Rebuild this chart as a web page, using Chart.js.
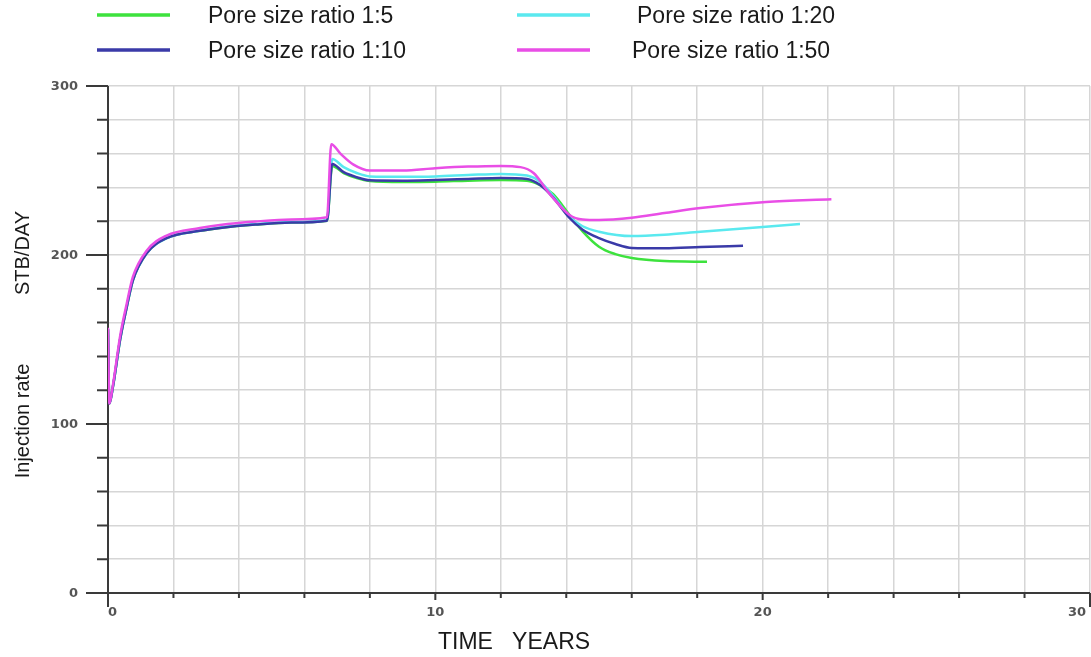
<!DOCTYPE html>
<html>
<head>
    <title>Injection rate vs time</title>
    <script src="https://cdn.jsdelivr.net/npm/chart.js@4.4.1/dist/chart.umd.min.js"></script>
    <style>
        body { margin: 0; background: #fff; }
        #wrap { width: 1091px; height: 657px; position: relative; }
    </style>
</head>
<body>
    <div id="wrap"><canvas id="rateChart"></canvas></div>
    <script>
        // injection rate (STB/DAY) against time (years), one pair of arrays per pore size ratio
        var labels = ['Pore size ratio 1:5', 'Pore size ratio 1:10', 'Pore size ratio 1:20', 'Pore size ratio 1:50'];

        var years_1_5 = [0, 0.04, 0.15, 0.37, 0.57, 0.76, 1.18, 1.79, 2.81, 3.42, 4.5, 5.6, 6.69,
            6.85, 7.2, 7.6, 8.0, 9.0, 10, 11, 12, 12.8, 13.2, 13.6, 14.1, 14.5, 15.0, 15.5, 16.0, 17.0, 18.3];
        var rate_1_5 = [156, 112, 122, 150, 169, 185, 201, 210, 214.3, 216, 218, 219.2, 220.2,
            252.7, 248.5, 245.5, 243.8, 243.2, 243.4, 244, 244.4, 244, 241.4, 236, 223.7, 214, 204.9, 200.5, 198.2, 196.4, 196];

        var years_1_10 = [0, 0.04, 0.15, 0.37, 0.57, 0.76, 1.18, 1.79, 2.81, 3.42, 4.5, 5.6, 6.69,
            6.85, 7.2, 7.6, 8.0, 9.0, 10, 11, 12, 12.8, 13.2, 13.6, 14.1, 14.5, 15.0, 15.5, 16.0, 17.0, 18.1, 19.4];
        var rate_1_10 = [156, 112, 122, 150, 169, 185, 201, 210, 214.3, 216, 218, 219.2, 220.3,
            253.8, 249, 246, 244.2, 244, 244.4, 245, 245.6, 245, 241.4, 234, 221.9, 215, 210, 206.5, 204.2, 204, 204.7, 205.5];

        var years_1_20 = [0, 0.04, 0.15, 0.37, 0.57, 0.76, 1.18, 1.79, 2.81, 3.42, 4.5, 5.6, 6.69,
            6.85, 7.2, 7.6, 8.0, 9.0, 10, 11, 12, 12.8, 13.2, 13.6, 14.1, 14.5, 15.0, 16.0, 17.0, 18.1, 20.0, 21.14];
        var rate_1_20 = [156, 112, 122, 150, 169, 185, 201, 210, 214.5, 216.3, 218.3, 219.5, 220.6,
            256.8, 252, 248.5, 246.5, 246.3, 246.5, 247.3, 248, 247, 243.4, 235, 222.7, 217, 213.8, 211.2, 212, 213.8, 216.5, 218.3];

        var years_1_50 = [0, 0.04, 0.15, 0.37, 0.57, 0.76, 1.18, 1.79, 2.81, 3.42, 4.5, 5.6, 6.69,
            6.82, 7.1, 7.5, 8.0, 9.0, 10, 11, 12, 12.6, 13.0, 13.5, 14.1, 14.5, 15.0, 16.0, 17.0, 18.1, 20.1, 22.1];
        var rate_1_50 = [157, 112, 123, 152, 171, 187, 202.5, 211.5, 216, 217.8, 219.8, 221, 222.3,
            265.5, 260, 253.5, 250, 250, 251.3, 252.3, 252.7, 252, 248.5, 236, 223.7, 221, 220.7, 222, 224.8, 227.8, 231.4, 233];

        var xTicks = [0, 10, 20, 30];
        var yTicks = [0, 100, 200, 300];

        function points(xs, ys) {
            return xs.map(function (t, i) { return { x: t, y: ys[i] }; });
        }

        var colors = ['#3de23d', '#3a3aa8', '#5ae9ef', '#e94ee6'];
        // where each legend entry sits above the plot
        var legendSlots = [
            { x1: 97, x2: 170, y: 15, tx: 208 },
            { x1: 97, x2: 170, y: 50, tx: 208 },
            { x1: 517, x2: 590, y: 15, tx: 637 },
            { x1: 517, x2: 590, y: 50, tx: 632 }
        ];

        var frame = {
            id: 'frame',
            beforeDatasetsDraw: function (chart) {
                var ctx = chart.ctx, a = chart.chartArea, x = chart.scales.x, y = chart.scales.y;
                ctx.save();
                ctx.strokeStyle = '#3a3a3a';
                ctx.lineWidth = 2;
                ctx.beginPath();
                ctx.moveTo(a.left - 22, a.bottom); ctx.lineTo(a.right, a.bottom);
                ctx.moveTo(a.left, a.top); ctx.lineTo(a.left, a.bottom + 14);
                y.ticks.forEach(function (t) {
                    var py = y.getPixelForValue(t.value);
                    var len = yTicks.indexOf(t.value) >= 0 ? 22 : 11;
                    ctx.moveTo(a.left - len, py); ctx.lineTo(a.left, py);
                });
                x.ticks.forEach(function (t) {
                    var px = x.getPixelForValue(t.value);
                    var len = t.value === 30 ? 14 : (t.value % 10 === 0 ? 7 : 5);
                    ctx.moveTo(px, a.bottom); ctx.lineTo(px, a.bottom + len);
                });
                ctx.stroke();

                ctx.fillStyle = '#555';
                ctx.font = 'bold 13px "DejaVu Sans", sans-serif';
                ctx.textBaseline = 'middle';
                ctx.textAlign = 'right';
                yTicks.forEach(function (v) {
                    ctx.fillText(String(v), a.left - 30, y.getPixelForValue(v) + 1);
                });
                xTicks.forEach(function (v) {
                    var px = x.getPixelForValue(v);
                    if (v === 0) { ctx.textAlign = 'left'; }
                    else if (v === 30) { ctx.textAlign = 'right'; px -= 4; }
                    else { ctx.textAlign = 'center'; }
                    ctx.fillText(String(v), px, a.bottom + 20);
                });
                ctx.restore();
            },
            afterDraw: function (chart) {
                var ctx = chart.ctx;
                ctx.save();
                ctx.fillStyle = '#1a1a1a';
                ctx.textBaseline = 'middle';
                ctx.textAlign = 'left';
                ctx.font = '23px "Liberation Sans", Arial, sans-serif';
                chart.data.datasets.forEach(function (ds, i) {
                    var s = legendSlots[i];
                    ctx.strokeStyle = ds.borderColor;
                    ctx.lineWidth = 3.5;
                    ctx.beginPath();
                    ctx.moveTo(s.x1, s.y); ctx.lineTo(s.x2, s.y);
                    ctx.stroke();
                    ctx.fillText(ds.label, s.tx, s.y + 2);
                });

                // axis titles
                ctx.fillText('TIME   YEARS', 438, 643);
                ctx.font = '20px "Liberation Sans", Arial, sans-serif';
                ctx.textAlign = 'center';
                ctx.translate(23, 0);
                ctx.rotate(-Math.PI / 2);
                ctx.fillText('STB/DAY', -253, 0);
                ctx.fillText('Injection rate', -421, 0);
                ctx.restore();
            }
        };

        var gridStyle = { color: '#d6d6d6', lineWidth: 1.5, drawTicks: false };

        var ctx = document.getElementById('rateChart').getContext('2d');
        var chart = new Chart(ctx, {
            type: 'line',
            data: {
                datasets: [
                    { label: labels[0], data: points(years_1_5, rate_1_5), borderColor: colors[0], order: 4 },
                    { label: labels[1], data: points(years_1_10, rate_1_10), borderColor: colors[1], order: 2 },
                    { label: labels[2], data: points(years_1_20, rate_1_20), borderColor: colors[2], order: 3 },
                    { label: labels[3], data: points(years_1_50, rate_1_50), borderColor: colors[3], order: 1 }
                ]
            },
            options: {
                responsive: true,
                maintainAspectRatio: false,
                animation: false,
                layout: { padding: { top: 86, right: 1, left: 0, bottom: 0 } },
                elements: {
                    point: { radius: 0 },
                    line: { borderWidth: 2.5, cubicInterpolationMode: 'monotone', fill: false }
                },
                plugins: { legend: { display: false }, tooltip: { enabled: false } },
                scales: {
                    x: {
                        type: 'linear', min: 0, max: 30,
                        ticks: { stepSize: 2, display: false },
                        grid: gridStyle,
                        border: { display: false },
                        afterFit: function (s) { s.height = 64; }
                    },
                    y: {
                        min: 0, max: 300,
                        ticks: { stepSize: 20, display: false },
                        grid: gridStyle,
                        border: { display: false },
                        afterFit: function (s) { s.width = 108; }
                    }
                }
            },
            plugins: [frame]
        });
    </script>
</body>
</html>
